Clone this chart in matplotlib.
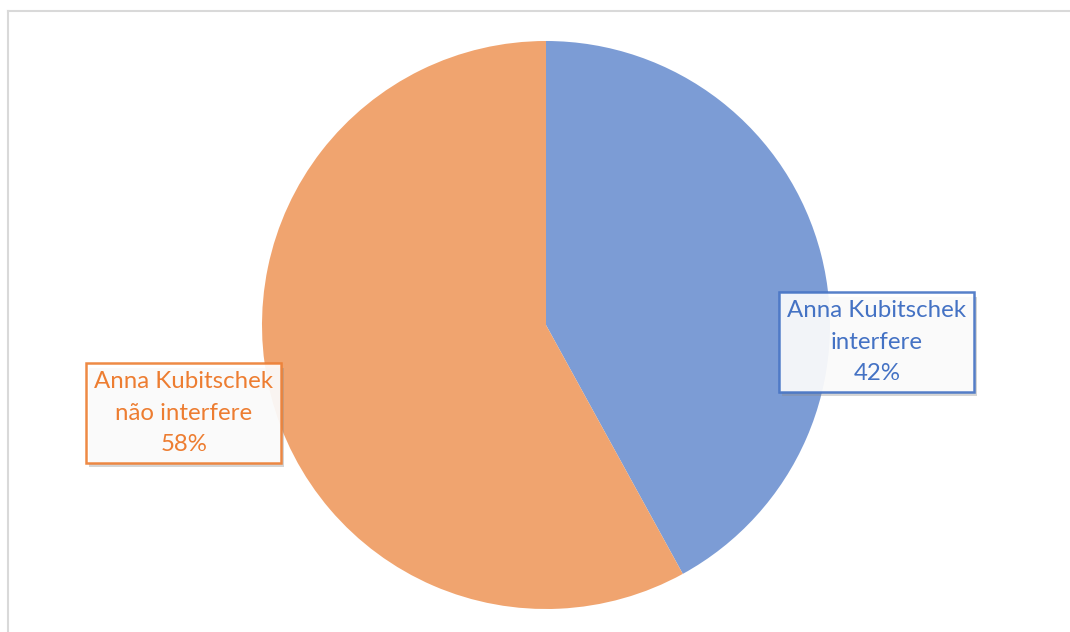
import matplotlib.pyplot as plt
from matplotlib.lines import Line2D
import matplotlib.patheffects as pe

# Data
labels = ['Anna Kubitschek\ninterfere', 'Anna Kubitschek\nnão interfere']
values = [42, 58]
colors = ['#7C9CD5', '#F0A46F']
text_colors = ['#4472C4', '#ED7D31']
label_pos = [(1.165, -0.06), (-1.275, -0.31)]

fig = plt.figure(figsize=(10.7, 6.32), dpi=100)

# light grey chart frame (top and left edges visible)
fig.add_artist(Line2D([7.5 / 1070, 7.5 / 1070], [0, 1 - 11 / 632], transform=fig.transFigure,
                      color='#D9D9D9', lw=1.5))
fig.add_artist(Line2D([7.5 / 1070, 1], [1 - 11 / 632, 1 - 11 / 632], transform=fig.transFigure,
                      color='#D9D9D9', lw=1.5))

ax = fig.add_axes([262 / 1070, 23 / 632, 568 / 1070, 568 / 632])
ax.pie(values, colors=colors, startangle=90, counterclock=False,
       wedgeprops=dict(linewidth=0))
ax.set_xlim(-1, 1)
ax.set_ylim(-1, 1)
ax.set_aspect('equal')
ax.axis('off')

for lab, v, tc, pos in zip(labels, values, text_colors, label_pos):
    t = ax.text(pos[0], pos[1], f'{lab}\n{v}%', ha='center', va='center',
                fontsize=17.3, color=tc, family=['Lato', 'DejaVu Sans'],
                linespacing=1.6, zorder=5,
                bbox=dict(boxstyle='square,pad=0.33', facecolor='white', alpha=0.9,
                          edgecolor=tc, linewidth=1.8))
    t.get_bbox_patch().set_path_effects([
        pe.SimplePatchShadow(offset=(2, -3), shadow_rgbFace='#888888', alpha=0.35),
        pe.Normal()])

fig.savefig('out.png', dpi=100)
